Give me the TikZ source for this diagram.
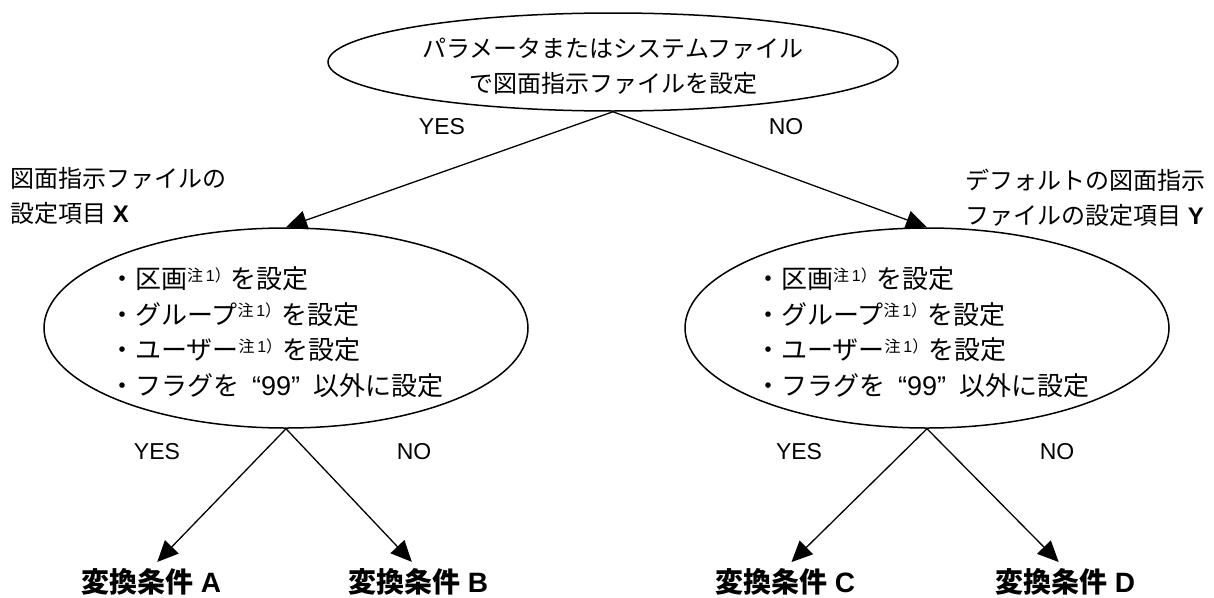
\documentclass[tikz,border=0pt]{standalone}
\usepackage{fontspec}
\setmainfont{Liberation Sans}
\newfontfamily\jpf{Noto Sans CJK JP}
\usetikzlibrary{arrows.meta,shapes.geometric}
\newcommand{\J}[1]{{\jpf #1}}
\newcommand{\chu}{\raisebox{0.55ex}{\fontsize{16}{16}\selectfont\J{注}\,1\J{）}}}
\newcommand{\qnn}{\hspace{13pt}{\fontsize{27}{35}\selectfont “99”}\hspace{13pt}}
\begin{document}
\begin{tikzpicture}[x=1pt,y=-1pt,
  every node/.style={inner sep=0pt, font=\fontsize{24}{35}\selectfont},
  ell/.style={draw, line width=1.5pt, ellipse, minimum width=484pt, minimum height=200pt},
  arr/.style={line width=1.3pt, -{Triangle[length=21pt,width=19pt]}},
  yn/.style={font=\fontsize{23}{28}\selectfont},
  res/.style={font=\fontsize{28}{32}\selectfont\bfseries},
  body/.style={align=left, font=\fontsize{24}{35}\selectfont},
  items/.style={align=left, font=\fontsize{26}{35.5}\selectfont}
]
\useasboundingbox (0,0) rectangle (1214,597);

% top ellipse
\node[draw, line width=1.5pt, ellipse, minimum width=570pt, minimum height=98pt] (T) at (613,62) {};
\node[align=center] (Tt) at (613,66) {\J{パラメータまたはシステムファイル}\\\J{で図面指示ファイルを設定}};

% left / right ellipses
\node[ell] (L) at (286,328) {};
\node[ell] (R) at (927,328) {};
\node[items, anchor=west] (Lt) at (109,332) {\J{・区画}\chu\J{を設定}\\\J{・グループ}\chu\J{を設定}\\\J{・ユーザー}\chu\J{を設定}\\\J{・フラグを}\qnn\J{以外に設定}};
\node[items, anchor=west] (Rt) at (755,332) {\J{・区画}\chu\J{を設定}\\\J{・グループ}\chu\J{を設定}\\\J{・ユーザー}\chu\J{を設定}\\\J{・フラグを}\qnn\J{以外に設定}};

% side labels
\node[body, anchor=west] (Lx) at (10,196) {\J{図面指示ファイルの}\\\J{設定項目} \textbf{X}};
\node[body, anchor=west] (Ry) at (965,198) {\J{デフォルトの図面指示}\\\J{ファイルの設定項目} \textbf{Y}};

% YES / NO labels
\node[yn] (y1) at (442,127) {YES};
\node[yn] (n1) at (786,127) {NO};
\node[yn] (y2) at (157,452) {YES};
\node[yn] (n2) at (414,452) {NO};
\node[yn] (y3) at (799,452) {YES};
\node[yn] (n3) at (1057,452) {NO};

% results
\node[res] (A) at (151,582) {\J{変換条件} A};
\node[res] (B) at (418,582) {\J{変換条件} B};
\node[res] (C) at (785,582) {\J{変換条件} C};
\node[res] (D) at (1065,582) {\J{変換条件} D};

% arrows
\draw[arr] (T.south) -- (L.north);
\draw[arr] (T.south) -- (R.north);
\draw[arr, shorten >=9pt] (L.south) -- (A.north);
\draw[arr, shorten >=9pt] (L.south) -- (B.north);
\draw[arr, shorten >=9pt] (R.south) -- (C.north);
\draw[arr, shorten >=9pt] (R.south) -- (D.north);
\end{tikzpicture}
\end{document}
